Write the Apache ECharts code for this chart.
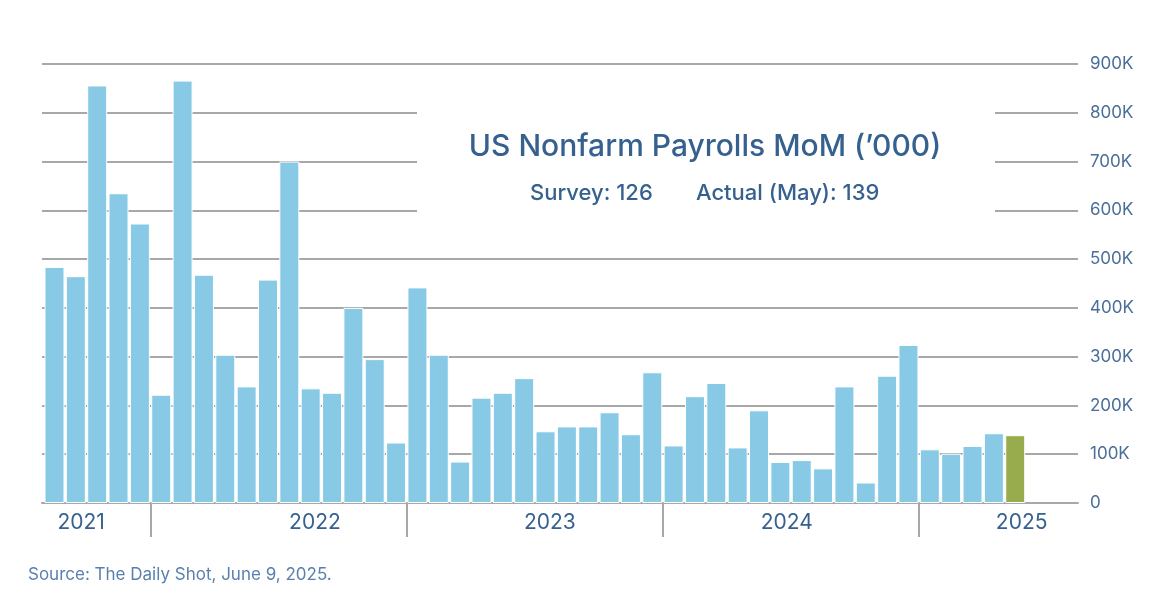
<!DOCTYPE html>
<html>
<head>
<meta charset="utf-8">
<script src="https://cdn.jsdelivr.net/npm/echarts@6/dist/echarts.min.js"></script>
<style>
  html, body { margin: 0; padding: 0; background: #fff; }
  #chart { width: 1172px; height: 606px; }
</style>
</head>
<body>
<div id="chart"></div>
<script>
// ---- Data ----
const months = [
  '2021-08','2021-09','2021-10','2021-11','2021-12',
  '2022-01','2022-02','2022-03','2022-04','2022-05','2022-06','2022-07','2022-08','2022-09','2022-10','2022-11','2022-12',
  '2023-01','2023-02','2023-03','2023-04','2023-05','2023-06','2023-07','2023-08','2023-09','2023-10','2023-11','2023-12',
  '2024-01','2024-02','2024-03','2024-04','2024-05','2024-06','2024-07','2024-08','2024-09','2024-10','2024-11','2024-12',
  '2025-01','2025-02','2025-03','2025-04','2025-05'
];
const payrolls = [
  484, 465, 856, 635, 573,
  222, 866, 468, 304, 239, 458, 700, 235, 226, 400, 295, 124,
  442, 304, 85, 216, 226, 256, 147, 157, 157, 186, 141, 268,
  118, 219, 246, 114, 190, 84, 88, 71, 239, 42, 261, 324,
  110, 101, 117, 143, 139
];
const yearLabels = ['2021', '2022', '2023', '2024', '2025'];
const yTicks = [0, 100, 200, 300, 400, 500, 600, 700, 800, 900];
const titleText = 'US Nonfarm Payrolls MoM (\u2019000)';
const surveyValue = 126;
const actualValue = 139;
const actualMonth = 'May';
const sourceText = 'Source: The Daily Shot, June 9, 2025.';

// ---- Layout / style ----
const FONT = 'Inter';
const BLUE = '#88cae5';
const GREEN = '#98ac4e';
const GRIDC = '#a8a8a8';
const TEXTC = '#36618f';
const yearLabelPos = [1.25, 12.2, 23.2, 34.3, 45.3];

// year boundaries computed from the month categories
const yearBounds = [];
for (let i = 1; i < months.length; i++) {
  if (months[i].slice(0, 4) !== months[i - 1].slice(0, 4)) yearBounds.push(i - 0.5);
}

const barData = payrolls.map((v, i) => {
  const item = { value: [i, v] };
  if (i === payrolls.length - 1) item.itemStyle = { color: GREEN };
  return item;
});

const chart = echarts.init(document.getElementById('chart'));
chart.setOption({
  animation: false,
  backgroundColor: '#fff',
  textStyle: { fontFamily: FONT },
  grid: { left: 42, right: 94, top: 64, bottom: 103, containLabel: false },
  xAxis: {
    type: 'value',
    min: -0.585,
    max: 47.94,
    axisLine: { show: true, lineStyle: { color: GRIDC, width: 2 } },
    axisTick: {
      show: true, length: 34, customValues: yearBounds,
      lineStyle: { color: GRIDC, width: 2 }
    },
    axisLabel: {
      show: true, customValues: yearLabelPos, margin: 9,
      fontFamily: FONT, fontSize: 21, color: TEXTC,
      formatter: function (v) {
        let best = 0;
        for (let k = 0; k < yearLabelPos.length; k++) {
          if (Math.abs(yearLabelPos[k] - v) < Math.abs(yearLabelPos[best] - v)) best = k;
        }
        return yearLabels[best];
      }
    },
    splitLine: { show: false }
  },
  yAxis: {
    type: 'value',
    position: 'right',
    min: yTicks[0],
    max: yTicks[yTicks.length - 1],
    interval: 100,
    axisLine: { show: false },
    axisTick: { show: false },
    axisLabel: {
      margin: 12, fontFamily: FONT, fontSize: 17, color: '#4a6e98',
      formatter: v => v === 0 ? '0' : v + 'K'
    },
    splitLine: { show: true, lineStyle: { color: GRIDC, width: 2 } }
  },
  series: [{
    type: 'bar',
    data: barData,
    barWidth: 20,
    itemStyle: { color: BLUE, borderColor: '#ffffff', borderWidth: 1 },
    z: 2
  }],
  graphic: [
    { type: 'rect', z: 50, shape: { x: 417, y: 96, width: 578, height: 130 }, style: { fill: '#ffffff' } },
    { type: 'text', z: 60, x: 705, y: 147,
      style: { text: titleText, fontFamily: FONT, fontSize: 30, fontWeight: 500, fill: TEXTC, textAlign: 'center', textVerticalAlign: 'middle' } },
    { type: 'text', z: 60, x: 530, y: 193,
      style: { text: 'Survey: ' + surveyValue, fontFamily: FONT, fontSize: 22, fontWeight: 500, fill: TEXTC, textAlign: 'left', textVerticalAlign: 'middle' } },
    { type: 'text', z: 60, x: 696, y: 193,
      style: { text: 'Actual (' + actualMonth + '): ' + actualValue, fontFamily: FONT, fontSize: 22, fontWeight: 500, fill: TEXTC, textAlign: 'left', textVerticalAlign: 'middle' } },
    { type: 'text', z: 60, x: 28, y: 575,
      style: { text: sourceText, fontFamily: FONT, fontSize: 17, fill: '#5a80ae', textAlign: 'left', textVerticalAlign: 'middle' } }
  ]
});
</script>
</body>
</html>
